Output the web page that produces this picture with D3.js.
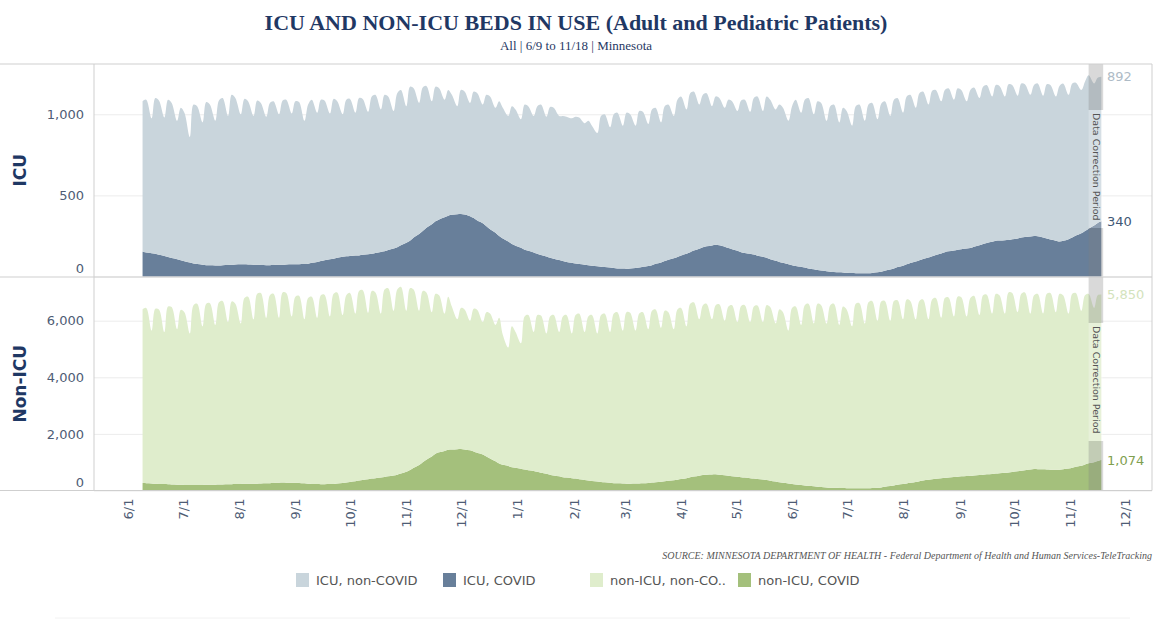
<!DOCTYPE html>
<html lang="en">
  <head>
    <meta charset="UTF-8" />
    <title>ICU and non-ICU beds in use</title>
    <style>
      body { margin: 0; background: #fff; }
      .tick text { font-family: "DejaVu Sans", sans-serif; font-size: 13px; fill: #4e5c75; }
      .grid .domain { display: none; }
      .grid line { stroke: #ececec; }
      .xaxis .domain { display: none; }
    </style>
  </head>
  <body>
    <svg id="container" width="1166" height="621"></svg>
  </body>
  <script src="https://cdn.jsdelivr.net/npm/d3@7"></script>
  <script>
    // points per week: Tue, Thu, Sun (starting Tue 6/9/2020, last Thu 11/18/2021)
    const firstDay = new Date(2020, 5, 9);
    const weekSlots = [0, 2, 5];

    const icuCovid = [
      152,148,144, 140,134,127, 120,114,107, 100,94,86, 80,77,73,
      70,69,68, 68,70,71, 72,74,75, 75,74,73, 72,71,70,
      70,71,72, 72,74,75, 75,76,77, 78,84,90, 95,100,106,
      110,115,121, 125,127,129, 130,134,137, 140,145,151, 155,163,172,
      180,192,208, 220,240,262, 280,300,322, 340,352,365, 375,380,383,
      385,382,372, 360,345,328, 310,292,270, 250,235,215, 200,190,177,
      165,158,148, 140,132,123, 115,109,101, 95,90,85, 80,77,73,
      70,67,63, 60,58,55, 52,50,49, 48,50,52, 55,60,65,
      70,78,87, 95,103,112, 120,130,140, 150,160,171, 180,186,191,
      195,192,183, 175,168,158, 150,145,140, 135,128,121, 115,107,97,
      90,84,76, 70,65,60, 55,50,45, 40,37,33, 30,28,26,
      25,23,21, 20,20,20, 20,22,26, 30,36,43, 50,58,67,
      75,83,92, 100,108,117, 125,133,142, 150,155,160, 165,168,172,
      175,183,192, 200,207,214, 220,222,224, 225,230,235, 240,243,247,
      250,248,241, 235,228,221, 215,220,230, 240,252,266, 280,295,315,
      330,340
    ];

    const icuNonCovid = [
      928,942,831, 960,951,853, 970,956,853, 940,916,774, 980,973,877,
      1005,991,892, 1017,1030,919, 1048,1026,925, 1020,1006,917, 1013,999,915,
      1000,1009,928, 1013,1016,930, 1005,999,883, 982,1006,920, 995,985,899,
      985,965,879, 965,968,881, 970,961,878, 970,975,879, 965,947,848,
      950,958,842, 950,920,808, 885,875,758, 830,808,725, 775,740,667,
      765,758,698, 780,785,732, 810,818,770, 830,805,775, 850,840,793,
      895,892,842, 910,928,862, 930,931,889, 895,895,890, 905,903,872,
      890,863,822, 930,942,865, 948,960,881, 962,950,878, 965,955,875,
      960,962,863, 955,957,878, 970,980,890, 980,980,889, 940,944,859,
      915,908,857, 915,912,862, 935,945,875, 965,982,899, 995,983,933,
      970,956,884, 980,1025,950, 1035,1050,955, 1040,1033,927, 1020,1032,924,
      1015,997,909, 1030,1040,940, 1040,1048,944, 1035,1044,947, 1040,1042,943,
      1035,1037,948, 1030,1032,943, 1020,1017,938, 1000,1005,930, 995,982,908,
      975,982,908, 970,973,896, 960,953,886, 960,950,880, 950,942,873,
      930,942,874, 950,952,889, 960,970,890, 950,943,884, 920,945,875,
      895,892
    ];

    const nonIcuCovid = [
      262,256,250, 240,234,227, 220,214,207, 200,198,196, 195,196,198,
      200,203,206, 210,214,219, 225,228,232, 235,237,238, 240,245,252,
      260,266,272, 280,278,275, 270,262,252, 240,234,227, 220,222,226,
      230,245,262, 280,300,325, 350,370,395, 420,437,458, 480,503,530,
      560,600,660, 720,800,900, 1000,1090,1200, 1300,1350,1400, 1440,1450,1460,
      1470,1450,1420, 1380,1330,1270, 1200,1130,1030, 950,910,870, 820,800,770,
      740,715,690, 660,630,595, 560,530,500, 470,455,437, 420,400,375,
      350,335,318, 300,288,274, 260,254,247, 240,242,246, 250,258,268,
      280,295,312, 330,345,362, 380,405,435, 470,495,525, 550,558,565,
      570,555,538, 520,505,488, 470,455,437, 420,405,388, 370,345,318,
      290,270,250, 230,215,197, 180,165,148, 130,120,110, 100,95,90,
      85,83,81, 80,80,80, 80,88,98, 110,130,155, 180,205,228,
      250,275,303, 330,352,377, 400,415,433, 450,462,477, 490,500,510,
      520,532,546, 560,572,586, 600,612,626, 640,658,680, 700,718,740,
      760,755,748, 740,737,734, 730,750,775, 800,835,875, 920,960,1000,
      1040,1074
    ];

    const nonIcuNonCovid = [
      6138,6194,5400, 6180,6166,5373, 6280,6266,5493, 6180,6102,5354, 6355,6404,5602,
      6400,6417,5644, 6440,6486,5731, 6455,6372,5668, 6565,6613,5812, 6710,6735,5848,
      6640,6684,5828, 6720,6702,5875, 6580,6618,5798, 6560,6616,5873, 6680,6698,5924,
      6720,6755,5938, 6620,6680,5925, 6700,6710,5885, 6630,6563,5792, 6620,6647,5820,
      6540,6600,5690, 6430,6300,5450, 6050,5910,5100, 5650,5550,4850, 5410,5050,4590,
      4980,4950,4580, 5040,5050,4680, 5100,5120,4820, 5150,4590,4180, 4980,4800,4430,
      5410,5485,4910, 5540,5550,4955, 5590,5670,5100, 5680,5745,5113, 5780,5850,5225,
      5800,5865,5232, 5900,5962,5326, 5990,6046,5403, 6060,6038,5404, 6000,6042,5432,
      6070,6105,5438, 6020,5955,5338, 6020,6045,5365, 6130,6155,5525, 6000,6042,5485,
      5980,6025,5462, 5980,6045,5462, 6050,6095,5513, 6080,6135,5562, 6180,6135,5582,
      6110,6030,5400, 6220,6285,5653, 6370,6435,5752, 6470,6430,5790, 6450,6505,5760,
      6415,6317,5719, 6520,6540,5820, 6570,6612,5902, 6570,6570,5845, 6520,6515,5822,
      6500,6425,5747, 6370,6398,5673, 6350,6385,5667, 6350,6358,5673, 6360,6330,5640,
      6280,6348,5654, 6340,6348,5664, 6350,6288,5624, 6360,6322,5620, 6250,6282,5510,
      6140,6195,5502, 6210,6243,5566, 6220,6150,5475, 6150,6145,5475, 5980,5990,5450,
      5860,5850
    ];

    const icuTicks = [0, 500, 1000];
    const nonIcuTicks = [0, 2000, 4000, 6000];
    const correctionStart = new Date(2021, 10, 11);
    const correctionEnd = new Date(2021, 10, 19);

    const legendItems = [
      { label: "ICU, non-COVID", color: "#c9d5dc", x: 296 },
      { label: "ICU, COVID", color: "#687f9a", x: 443 },
      { label: "non-ICU, non-CO..", color: "#dfedcc", x: 590 },
      { label: "non-ICU, COVID", color: "#a4c07c", x: 738 }
    ];

    const svg = d3.select("#container");
    const left = 94, right = 1152;
    const navy = "#1f3864";

    const dates = icuCovid.map((_, i) =>
      d3.timeDay.offset(firstDay, 7 * Math.floor(i / 3) + weekSlots[i % 3])
    );

    const x = d3.scaleTime()
      .domain([new Date(2020, 5, 1), new Date(2021, 11, 1)])
      .range([128, 1125]);

    // title
    svg.append("text")
      .attr("x", 576).attr("y", 30)
      .attr("text-anchor", "middle")
      .style("font-family", "'Liberation Serif', serif")
      .style("font-weight", "bold")
      .style("font-size", "22px")
      .style("fill", navy)
      .text("ICU AND NON-ICU BEDS IN USE (Adult and Pediatric Patients)");
    svg.append("text")
      .attr("x", 576).attr("y", 50)
      .attr("text-anchor", "middle")
      .style("font-family", "'Liberation Serif', serif")
      .style("font-size", "13px")
      .style("fill", navy)
      .text("All | 6/9 to 11/18 | Minnesota");

    const panels = [
      { name: "ICU", top: 64, bottom: 276.5, max: 1310, ticks: icuTicks,
        covid: icuCovid, other: icuNonCovid,
        colors: ["#687f9a", "#c9d5dc"], labelColors: ["#3f5775", "#aebbc6"] },
      { name: "Non-ICU", top: 277, bottom: 490.5, max: 7544, ticks: nonIcuTicks,
        covid: nonIcuCovid, other: nonIcuNonCovid,
        colors: ["#a4c07c", "#dfedcc"], labelColors: ["#7f9f50", "#d3e3bd"] }
    ];

    panels.forEach((p) => {
      const y = d3.scaleLinear().domain([0, p.max]).range([p.bottom, p.top]);
      const g = svg.append("g");

      // gridlines + y labels
      const ax = g.append("g")
        .attr("class", "grid")
        .attr("transform", `translate(${left},0)`)
        .call(d3.axisLeft(y).tickValues(p.ticks).tickFormat(d3.format(","))
          .tickSize(-(right - left)).tickPadding(10));
      ax.selectAll(".tick text").filter((d) => d === 0).attr("dy", "-0.3em");

      // stacked areas
      const rows = dates.map((d, i) => ({ date: d, covid: p.covid[i], other: p.other[i] }));
      const series = d3.stack().keys(["covid", "other"])(rows);
      const area = d3.area()
        .x((d) => x(d.data.date))
        .y0((d) => y(d[0]))
        .y1((d) => y(d[1]))
        .curve(d3.curveCatmullRom);
      g.selectAll("path.area")
        .data(series)
        .enter()
        .append("path")
        .attr("class", "area")
        .attr("fill", (d, i) => p.colors[i])
        .attr("d", area);

      // data correction band
      const bx0 = x(correctionStart), bx1 = x(correctionEnd);
      const boxTop = p.top + 46, boxBottom = p.top + 164;
      g.append("rect")
        .attr("x", bx0).attr("width", bx1 - bx0)
        .attr("y", p.top).attr("height", boxTop - p.top)
        .attr("fill", "#808080").attr("opacity", 0.3);
      g.append("rect")
        .attr("x", bx0).attr("width", bx1 - bx0)
        .attr("y", boxBottom).attr("height", p.bottom - boxBottom)
        .attr("fill", "#808080").attr("opacity", 0.3);
      g.append("rect")
        .attr("x", bx0).attr("width", bx1 - bx0)
        .attr("y", boxTop).attr("height", boxBottom - boxTop)
        .attr("fill", "#ffffff").attr("opacity", 0.25);
      g.append("text")
        .attr("transform", `translate(${(bx0 + bx1) / 2},${boxTop + 3}) rotate(90)`)
        .attr("dy", "0.35em")
        .style("font-family", "'DejaVu Sans', sans-serif")
        .style("font-size", "9.5px")
        .style("fill", "#555")
        .text("Data Correction Period");

      // end value labels
      const last = rows[rows.length - 1];
      [[last.covid, last.covid], [last.other, last.covid + last.other]].forEach(([v, pos], i) => {
        g.append("text")
          .attr("x", 1107).attr("y", y(pos))
          .attr("dy", "0.35em")
          .style("font-family", "'DejaVu Sans', sans-serif")
          .style("font-size", "13px")
          .style("fill", p.labelColors[i])
          .text(d3.format(",")(v));
      });

      // axis title
      g.append("text")
        .attr("transform", `translate(26,${(p.top + p.bottom) / 2}) rotate(-90)`)
        .attr("text-anchor", "middle")
        .style("font-family", "'DejaVu Sans', sans-serif")
        .style("font-weight", "bold")
        .style("font-size", "17px")
        .style("fill", navy)
        .text(p.name);
    });

    // frame
    const frame = svg.append("g").attr("stroke", "#cfcfcf").attr("fill", "none");
    [64, 277, 490.5].forEach((yy) =>
      frame.append("line").attr("x1", 0).attr("x2", right).attr("y1", yy).attr("y2", yy));
    frame.append("line").attr("x1", left).attr("x2", left).attr("y1", 64).attr("y2", 490.5);
    frame.append("line").attr("x1", right).attr("x2", right).attr("y1", 64).attr("y2", 490.5);

    // x axis
    const xa = svg.append("g")
      .attr("class", "xaxis")
      .attr("transform", "translate(0,490.5)")
      .call(d3.axisBottom(x).ticks(d3.timeMonth.every(1))
        .tickFormat(d3.timeFormat("%-m/%-d")).tickSize(0));
    xa.selectAll(".tick text")
      .attr("transform", "rotate(-90)")
      .attr("text-anchor", "end")
      .attr("x", -8).attr("y", 0).attr("dy", "0.35em");

    // source
    svg.append("text")
      .attr("x", right).attr("y", 559)
      .attr("text-anchor", "end")
      .style("font-family", "'Liberation Serif', serif")
      .style("font-style", "italic")
      .style("font-size", "10px")
      .style("fill", "#555")
      .text("SOURCE: MINNESOTA DEPARTMENT OF HEALTH - Federal Department of Health and Human Services-TeleTracking");

    // legend
    const lg = svg.append("g")
      .selectAll("g")
      .data(legendItems)
      .enter()
      .append("g")
      .attr("transform", (d) => `translate(${d.x},573)`);
    lg.append("rect").attr("width", 13).attr("height", 14).attr("fill", (d) => d.color);
    lg.append("text")
      .attr("x", 20).attr("y", 7).attr("dy", "0.35em")
      .style("font-family", "'DejaVu Sans', sans-serif")
      .style("font-size", "13px")
      .style("fill", "#555")
      .text((d) => d.label);

    svg.append("line")
      .attr("x1", 55).attr("x2", 1130).attr("y1", 618).attr("y2", 618)
      .attr("stroke", "#f2f2f2");
  </script>
</html>
